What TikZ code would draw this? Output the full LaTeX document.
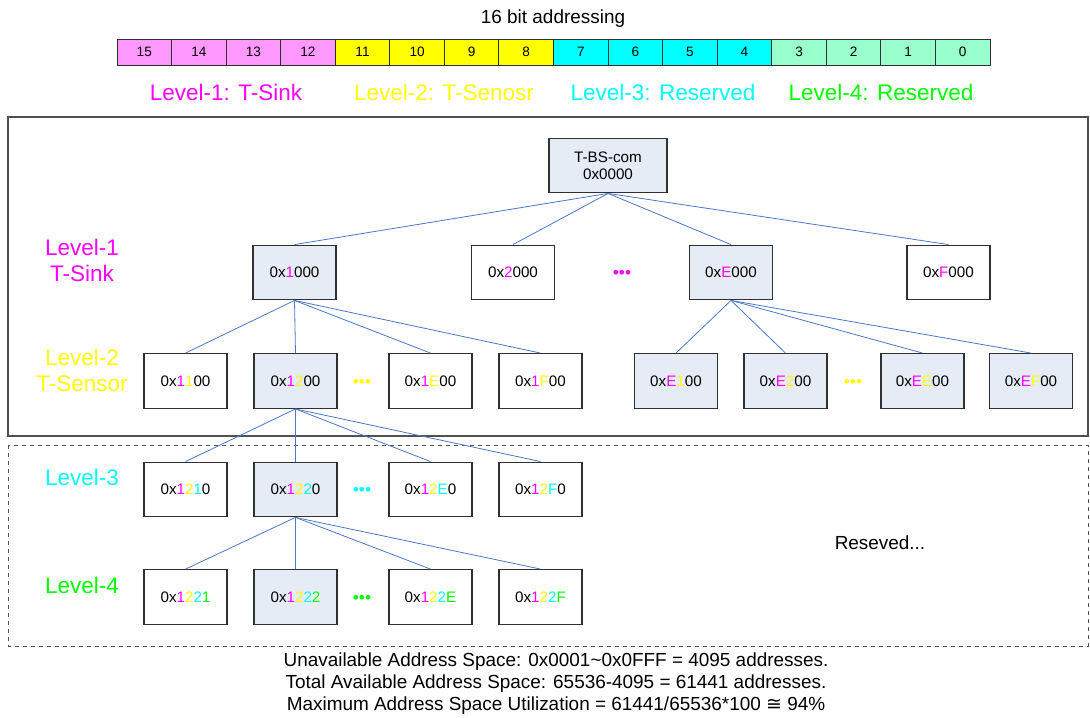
\documentclass[tikz,border=0pt]{standalone}
\usepackage{fontspec}
\setmainfont{Liberation Sans}
\newfontfamily\symfont{DejaVu Sans}
\definecolor{pkfill}{HTML}{FF99FF}
\definecolor{ylfill}{HTML}{FFFF00}
\definecolor{cyfill}{HTML}{00FFFF}
\definecolor{grfill}{HTML}{99FFCC}
\definecolor{mgtxt}{HTML}{FF00FF}
\definecolor{yltxt}{HTML}{FFFF00}
\definecolor{cytxt}{HTML}{00FFFF}
\definecolor{grtxt}{HTML}{00FF00}
\definecolor{boxfill}{HTML}{E6ECF6}
\definecolor{boxline}{HTML}{303030}
\definecolor{connline}{HTML}{4A78C8}
\definecolor{frameline}{HTML}{505050}
\newcommand{\mgd}[1]{\textcolor{mgtxt}{#1}}
\newcommand{\yld}[1]{\textcolor{yltxt}{#1}}
\newcommand{\cyd}[1]{\textcolor{cytxt}{#1}}
\newcommand{\grd}[1]{\textcolor{grtxt}{#1}}
\tikzset{
  addrbox/.style={draw=boxline, line width=0.9pt, minimum width=62.25pt, minimum height=41pt, inner sep=0pt, font=\fontsize{11.4}{13}\selectfont},
  shaded/.style={addrbox, fill=boxfill},
  plainbox/.style={addrbox, fill=white},
  bitcell/.style={draw=boxline, line width=0.7pt, minimum width=40.92pt, minimum height=19.5pt, inner sep=0pt, font=\fontsize{10.2}{12}\selectfont},
  conn/.style={draw=connline, line width=0.6pt},
  lvlhead/.style={font=\fontsize{16.9}{19.5}\selectfont, align=center, inner sep=0pt},
  dotsnode/.style={font=\fontsize{13}{14}\selectfont, inner sep=0pt},
  plaintext/.style={font=\fontsize{14.2}{16.5}\selectfont, align=center, inner sep=0pt},
}
\begin{document}
\begin{tikzpicture}[x=0.75pt, y=-0.75pt]
\useasboundingbox (0,0) rectangle (1090,718);

% title and bit row
\node[plaintext] (title) at (553,19) {16 bit addressing};
\foreach \b/\c [count=\i from 0] in {15/pkfill,14/pkfill,13/pkfill,12/pkfill,11/ylfill,10/ylfill,9/ylfill,8/ylfill,7/cyfill,6/cyfill,5/cyfill,4/cyfill,3/grfill,2/grfill,1/grfill,0/grfill}
  \node[bitcell, fill=\c] (bit\b) at ({117+54.5625*(\i+0.5)},52) {\b};

\node[lvlhead, text=mgtxt] (hl1) at (226,92) {Level-1: T-Sink};
\node[lvlhead, text=yltxt] (hl2) at (444,92) {Level-2: T-Senosr};
\node[lvlhead, text=cytxt] (hl3) at (663,92) {Level-3: Reserved};
\node[lvlhead, text=grtxt] (hl4) at (881,92) {Level-4: Reserved};

% frames
\draw[frameline, line width=0.9pt] (8,117) rectangle (1088,436);
\draw[frameline, line width=0.7pt, dashed] (8,445) rectangle (1088,646);

% side labels
\node[lvlhead, text=mgtxt] (sl1) at (82,260) {Level-1\\T-Sink};
\node[lvlhead, text=yltxt] (sl2) at (82,370) {Level-2\\T-Sensor};
\node[lvlhead, text=cytxt] (sl3) at (82,477) {Level-3};
\node[lvlhead, text=grtxt] (sl4) at (82,585) {Level-4};

% root
\node[shaded, minimum width=88.5pt, align=center, font=\fontsize{11.4}{12.8}\selectfont] (root) at (608,165.5) {T-BS-com\\0x0000};

% level 1
\node[shaded] (a1) at (294.5,272.5) {0x\mgd{1}000};
\node[plainbox] (a2) at (513,272.5) {0x\mgd{2}000};
\node[dotsnode, text=mgtxt] (d1) at (622,274) {•••};
\node[shaded] (aE) at (731,272.5) {0x\mgd{E}000};
\node[plainbox] (aF) at (948.5,272.5) {0x\mgd{F}000};

% level 2
\node[plainbox] (b11) at (185.5,381) {0x\mgd{1}\yld{1}00};
\node[shaded] (b12) at (295.5,381) {0x\mgd{1}\yld{2}00};
\node[dotsnode, text=yltxt] (d2) at (362,383) {•••};
\node[plainbox] (b1E) at (430.5,381) {0x\mgd{1}\yld{E}00};
\node[plainbox] (b1F) at (540.5,381) {0x\mgd{1}\yld{F}00};
\node[shaded] (bE1) at (676,381) {0x\mgd{E}\yld{1}00};
\node[shaded] (bE2) at (785.5,381) {0x\mgd{E}\yld{2}00};
\node[dotsnode, text=yltxt] (d2e) at (853,383) {•••};
\node[shaded] (bEE) at (922.5,381) {0x\mgd{E}\yld{E}00};
\node[shaded] (bEF) at (1031,381) {0x\mgd{E}\yld{F}00};

% level 3
\node[plainbox] (c1) at (185.5,489.5) {0x\mgd{1}\yld{2}\cyd{1}0};
\node[shaded] (c2) at (295.5,489.5) {0x\mgd{1}\yld{2}\cyd{2}0};
\node[dotsnode, text=cytxt] (d3) at (362,491) {•••};
\node[plainbox] (cE) at (430.5,489.5) {0x\mgd{1}\yld{2}\cyd{E}0};
\node[plainbox] (cF) at (540.5,489.5) {0x\mgd{1}\yld{2}\cyd{F}0};

% level 4
\node[plainbox] (e1) at (185.5,597) {0x\mgd{1}\yld{2}\cyd{2}\grd{1}};
\node[shaded] (e2) at (295.5,597) {0x\mgd{1}\yld{2}\cyd{2}\grd{2}};
\node[dotsnode, text=grtxt] (d4) at (362,599) {•••};
\node[plainbox] (eE) at (430.5,597) {0x\mgd{1}\yld{2}\cyd{2}\grd{E}};
\node[plainbox] (eF) at (540.5,597) {0x\mgd{1}\yld{2}\cyd{2}\grd{F}};

% connectors
\foreach \t in {a1,a2,aE,aF} \draw[conn] (root.south) -- (\t.north);
\foreach \t in {b11,b12,b1E,b1F} \draw[conn] (a1.south) -- (\t.north);
\foreach \t in {bE1,bE2,bEE,bEF} \draw[conn] (aE.south) -- (\t.north);
\foreach \t in {c1,c2,cE,cF} \draw[conn] (b12.south) -- (\t.north);
\foreach \t in {e1,e2,eE,eF} \draw[conn] (c2.south) -- (\t.north);

\node[plaintext] (res) at (880,543) {Reseved...};

\node[plaintext] (summary) at (556,684) {Unavailable Address Space: 0x0001\textasciitilde 0x0FFF = 4095 addresses.\\Total Available Address Space: 65536-4095 = 61441 addresses.\\Maximum Address Space Utilization = 61441/65536*100 {\symfont ≅} 94\%};
\end{tikzpicture}
\end{document}
